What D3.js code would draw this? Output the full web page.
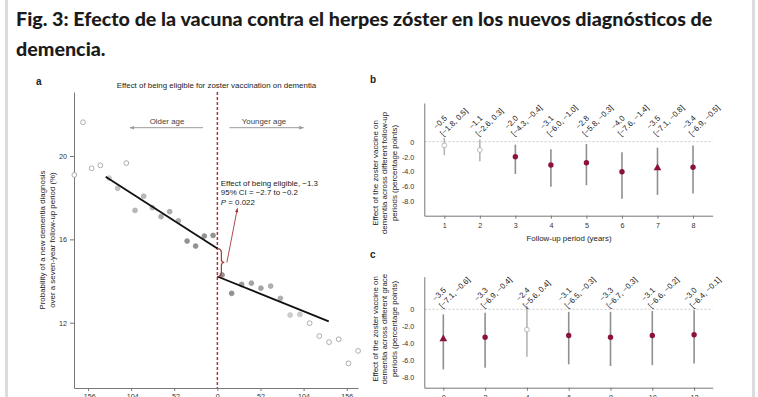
<!DOCTYPE html>
<html>
<head>
<meta charset="utf-8">
<script src="https://cdn.jsdelivr.net/npm/d3@7"></script>
<style>
    body { margin: 0; background: #fff; }
    svg text { font-family: "Liberation Sans", Arial, sans-serif; fill: #222; }
</style>
</head>
<body>
<svg id="chart" width="758" height="397"></svg>
<script>
// Panel a: binned probability of a dementia diagnosis, by weeks from the eligibility cutoff
const weeksA = [-172.5, -162.0, -151.6, -141.1, -130.6, -120.3, -109.8, -99.3, -88.9, -78.4, -67.9, -57.5, -47.0, -36.5, -26.2, -15.7, -5.2,
                5.7, 17.2, 29.3, 41.0, 52.5, 64.3, 76.0, 87.7, 99.5, 111.3, 123.0, 134.7, 146.3, 158.0, 169.7];
const probA = [19.09, 21.62, 19.41, 19.55, 18.94, 18.45, 19.66, 17.39, 18.07, 17.52, 17.09, 17.33, 16.89, 15.92, 15.68, 16.16, 16.19,
               14.29, 13.41, 13.84, 13.90, 13.66, 13.76, 13.17, 12.37, 12.40, 11.98, 11.36, 11.07, 11.21, 10.05, 10.65];
// 0 = outside the fitting window (hollow marker)
const weightA = [0, 0, 0, 0, 0.3, 0.4, 0, 0.5, 0.5, 0.5, 0.6, 0.6, 0.6, 0.9, 0.9, 0.9, 0.9,
                 0.9, 0.9, 0.8, 0.7, 0.7, 0.6, 0.6, 0.3, 0.3, 0, 0, 0, 0, 0, 0];
const fitLeftWeeks = [-134.7, 0];
const fitLeftProb = [19.0, 15.56];
const fitRightWeeks = [0, 134.3];
const fitRightProb = [14.22, 12.07];
const weekTicks = [-156, -104, -52, 0, 52, 104, 156];
const probTicks = [12, 16, 20];

// Panel b: effect by follow-up period
const yearsB = [1, 2, 3, 4, 5, 6, 7, 8];
const estB = [-0.5, -1.1, -2.0, -3.1, -2.8, -4.0, -3.5, -3.4];
const lowB = [-1.8, -2.6, -4.3, -6.0, -5.8, -7.6, -7.1, -6.9];
const highB = [0.5, 0.3, -0.4, -1.0, -0.3, -1.4, -0.8, -0.5];
const markerB = ['open', 'open', 'circle', 'circle', 'circle', 'circle', 'triangle', 'circle'];

// Panel c: effect by grace period
const graceC = [0, 2, 4, 6, 8, 10, 12];
const estC = [-3.5, -3.3, -2.4, -3.1, -3.3, -3.1, -3.0];
const lowC = [-7.1, -6.9, -5.6, -6.5, -6.7, -6.6, -6.4];
const highC = [-0.6, -0.4, 0.4, -0.3, -0.3, -0.2, -0.1];
const markerC = ['triangle', 'circle', 'open', 'circle', 'circle', 'circle', 'circle'];

const effectTicks = [0, -2, -4, -6, -8];

const svg = d3.select('#chart');
const red = '#8c1239';
const dashRed = '#a8383a';
const fontSize = '7.9px';
const tickFont = '7.2px';
const fmt = d3.format('.1f');
const hyphen = s => s.replace('\u2212', '-');

// Arrow heads
const defs = svg.append('defs');
[['arrGray', '#9a9a9a'], ['arrRed', dashRed]].forEach(([id, c]) => {
    defs.append('marker')
        .attr('id', id)
        .attr('viewBox', '0 0 8 6')
        .attr('refX', 7).attr('refY', 3)
        .attr('markerWidth', 5).attr('markerHeight', 4)
        .attr('orient', 'auto')
        .append('path')
        .attr('d', 'M0,0 L8,3 L0,6 Z')
        .attr('fill', c);
});

// Page frame
svg.append('rect').attr('x', 5).attr('y', 0).attr('width', 3).attr('height', 397).attr('fill', '#dcdcdc');
svg.append('rect').attr('x', 752).attr('y', 0).attr('width', 3).attr('height', 397).attr('fill', '#dcdcdc');

// Title
const title = svg.append('text')
    .attr('x', 16).attr('y', 26)
    .style('font-family', 'Lato, "Noto Sans", sans-serif')
    .style('font-weight', 900)
    .style('font-size', '19px')
    .style('fill', '#1b1b1b');
const t1 = title.append('tspan').text('Fig. 3: Efecto de la vacuna contra el herpes zóster en los nuevos diagnósticos de');
title.append('tspan').attr('x', 16).attr('y', 56).text('demencia.');
const w = t1.node().getComputedTextLength();
title.style('font-size', (19 * 697 / w) + 'px');

function styleAxis(g) {
    g.selectAll('.domain').attr('stroke', '#777');
    g.selectAll('.tick line').attr('stroke', '#777');
    g.selectAll('.tick text').style('font-size', tickFont).style('fill', '#333');
}

// ---------- Panel a ----------
const xA = d3.scaleLinear().domain([-172.9, 169.6]).range([74, 358]);
const yA = d3.scaleLinear().domain([8.87, 23.07]).range([388, 92]);

svg.append('text').attr('x', 36).attr('y', 84.5).text('a')
    .style('font-weight', 700).style('font-size', '10px');
svg.append('text').attr('x', 216.5).attr('y', 87.5).attr('text-anchor', 'middle')
    .style('font-size', fontSize)
    .text('Effect of being eligible for zoster vaccination on dementia');

svg.append('g').attr('transform', 'translate(0,388)')
    .call(d3.axisBottom(xA).tickValues(weekTicks).tickSize(3).tickPadding(3).tickSizeOuter(0)
          .tickFormat(d => hyphen(String(d))))
    .call(styleAxis);
svg.append('g').attr('transform', 'translate(74,0)')
    .call(d3.axisLeft(yA).tickValues(probTicks).tickSize(4).tickPadding(3).tickSizeOuter(0))
    .call(styleAxis);

const yLabA = svg.append('text')
    .attr('transform', 'translate(44.5,240) rotate(-90)')
    .attr('text-anchor', 'middle')
    .style('font-size', fontSize);
yLabA.append('tspan').attr('x', 0).attr('y', 0).text('Probability of a new dementia diagnosis');
yLabA.append('tspan').attr('x', 0).attr('y', 10).text('over a seven-year follow-up period (%)');

// Older / younger arrows
svg.append('line').attr('x1', 203).attr('x2', 130).attr('y1', 127.7).attr('y2', 127.7)
    .attr('stroke', '#9a9a9a').attr('stroke-width', 1).attr('marker-end', 'url(#arrGray)');
svg.append('text').attr('x', 167).attr('y', 124).attr('text-anchor', 'middle')
    .style('font-size', fontSize).style('fill', '#444').text('Older age');
svg.append('line').attr('x1', 229.5).attr('x2', 303.5).attr('y1', 127.7).attr('y2', 127.7)
    .attr('stroke', '#9a9a9a').attr('stroke-width', 1).attr('marker-end', 'url(#arrGray)');
svg.append('text').attr('x', 264).attr('y', 124).attr('text-anchor', 'middle')
    .style('font-size', fontSize).style('fill', '#444').text('Younger age');

// Cutoff
svg.append('line')
    .attr('x1', xA(0)).attr('x2', xA(0))
    .attr('y1', yA.range()[1]).attr('y2', yA.range()[0])
    .attr('stroke', dashRed).attr('stroke-width', 1.5).attr('stroke-dasharray', '3,2');

// Points
const shade = d3.scaleLinear().domain([0.3, 0.9]).range(['#cdcdcd', '#939393']);
weeksA.forEach((d, i) => {
    svg.append('circle')
        .attr('cx', xA(d))
        .attr('cy', yA(probA[i]))
        .attr('r', 2.4)
        .attr('fill', weightA[i] === 0 ? '#fff' : shade(weightA[i]))
        .attr('stroke', weightA[i] === 0 ? '#999' : d3.color(shade(weightA[i])).darker(0.2))
        .attr('stroke-width', 0.8);
});

// Fitted lines
[[fitLeftWeeks, fitLeftProb], [fitRightWeeks, fitRightProb]].forEach(([wk, pr]) => {
    svg.append('line')
        .attr('x1', xA(wk[0])).attr('y1', yA(pr[0]))
        .attr('x2', xA(wk[1])).attr('y2', yA(pr[1]))
        .attr('stroke', '#111').attr('stroke-width', 1.8);
});

// Brace on the jump
const bx = xA(0);
const bTop = yA(fitLeftProb[1]);
const bBot = yA(fitRightProb[0]);
const bMid = (bTop + bBot) / 2;
svg.append('path')
    .attr('d', `M${bx},${bTop} Q${bx + 4},${bTop} ${bx + 4},${bTop + 4} L${bx + 4},${bMid - 3} Q${bx + 4},${bMid} ${bx + 7},${bMid}`
             + ` Q${bx + 4},${bMid} ${bx + 4},${bMid + 3} L${bx + 4},${bBot - 4} Q${bx + 4},${bBot} ${bx},${bBot}`)
    .attr('fill', 'none').attr('stroke', dashRed).attr('stroke-width', 1.2);
svg.append('line')
    .attr('x1', bx + 9.5).attr('y1', bMid)
    .attr('x2', bx + 20).attr('y2', 208.5)
    .attr('stroke', dashRed).attr('stroke-width', 0.9).attr('marker-end', 'url(#arrRed)');

const note = svg.append('text').attr('x', bx + 3.5).attr('y', 185.5).style('font-size', fontSize);
note.append('tspan').text('Effect of being eligible, −1.3');
note.append('tspan').attr('x', bx + 3.5).attr('y', 195).text('95% CI = −2.7 to −0.2');
const p = note.append('tspan').attr('x', bx + 3.5).attr('y', 204.5);
p.append('tspan').style('font-style', 'italic').text('P');
p.append('tspan').text(' = 0.022');

// ---------- Panels b and c ----------
function forest(o) {
    const x = d3.scaleLinear().domain(o.xDomain).range([424.3, 712.7]);
    const y = d3.scaleLinear().domain(o.yDomain).range([o.bottom, o.top]);

    svg.append('text').attr('x', 370).attr('y', o.letterY).text(o.letter)
        .style('font-weight', 700).style('font-size', '10px');

    // zero reference
    svg.append('line')
        .attr('x1', x.range()[0]).attr('x2', x.range()[1])
        .attr('y1', y(0)).attr('y2', y(0))
        .attr('stroke', '#c8c8c8').attr('stroke-width', 0.8).attr('stroke-dasharray', '2.5,1.5');

    svg.append('g').attr('transform', `translate(0,${o.bottom})`)
        .call(d3.axisBottom(x).tickValues(o.xs).tickSize(3).tickPadding(4).tickSizeOuter(0))
        .call(styleAxis);
    svg.append('g').attr('transform', 'translate(424.3,0)')
        .call(d3.axisLeft(y).tickValues(effectTicks).tickSize(0).tickPadding(10)
              .tickFormat(d => d === 0 ? '0' : hyphen(fmt(d))))
        .call(styleAxis);

    const lab = svg.append('text')
        .attr('transform', `translate(377.5,${o.labelY}) rotate(-90)`)
        .attr('text-anchor', 'middle')
        .style('font-size', fontSize);
    o.yLabel.forEach((s, i) => {
        lab.append('tspan').attr('x', 0).attr('y', i * 9.8).text(s);
    });
    if (o.xLabel) {
        svg.append('text').attr('x', 569).attr('y', 241).attr('text-anchor', 'middle')
            .style('font-size', fontSize).text(o.xLabel);
    }

    o.xs.forEach((d, i) => {
        const cx = x(d);
        const open = o.marker[i] === 'open';
        svg.append('line')
            .attr('x1', cx).attr('x2', cx)
            .attr('y1', y(o.low[i])).attr('y2', y(o.high[i]))
            .attr('stroke', open ? '#b5b5b5' : '#8f8f8f').attr('stroke-width', 1.6);
        if (o.marker[i] === 'triangle') {
            svg.append('path')
                .attr('d', d3.symbol(d3.symbolTriangle, 26)())
                .attr('transform', `translate(${cx},${y(o.est[i])})`)
                .attr('fill', red);
        } else {
            svg.append('circle')
                .attr('cx', cx).attr('cy', y(o.est[i]))
                .attr('r', open ? 2.4 : 2.7)
                .attr('fill', open ? '#fff' : red)
                .attr('stroke', open ? '#aaa' : red)
                .attr('stroke-width', open ? 0.8 : 0);
        }
        // rotated estimate labels
        const t = svg.append('text')
            .attr('transform', `translate(${cx - 1},${o.noteY}) rotate(-45)`)
            .style('font-size', fontSize);
        t.append('tspan').attr('x', 0).attr('y', -9.5).text(fmt(o.est[i]));
        t.append('tspan').attr('x', 0).attr('y', 0).text(`[${fmt(o.low[i])}, ${fmt(o.high[i])}]`);
    });
}

forest({
    letter: 'b', letterY: 83,
    xs: yearsB, est: estB, low: lowB, high: highB, marker: markerB,
    xDomain: [0.437, 8.554], yDomain: [-9.87, 5.16],
    top: 103, bottom: 215.7, noteY: 136.5, labelY: 173,
    yLabel: ['Effect of the zoster vaccine on', 'dementia across different follow-up', 'periods (percentage points)'],
    xLabel: 'Follow-up period (years)'
});

forest({
    letter: 'c', letterY: 258,
    xs: graceC, est: estC, low: lowC, high: highC, marker: markerC,
    xDomain: [-0.91, 12.89], yDomain: [-9.26, 3.85],
    top: 276.7, bottom: 387.7, noteY: 308.5, labelY: 329,
    yLabel: ['Effect of the zoster vaccine on', 'dementia across different grace', 'periods (percentage points)'],
    xLabel: null
});
</script>
</body>
</html>
